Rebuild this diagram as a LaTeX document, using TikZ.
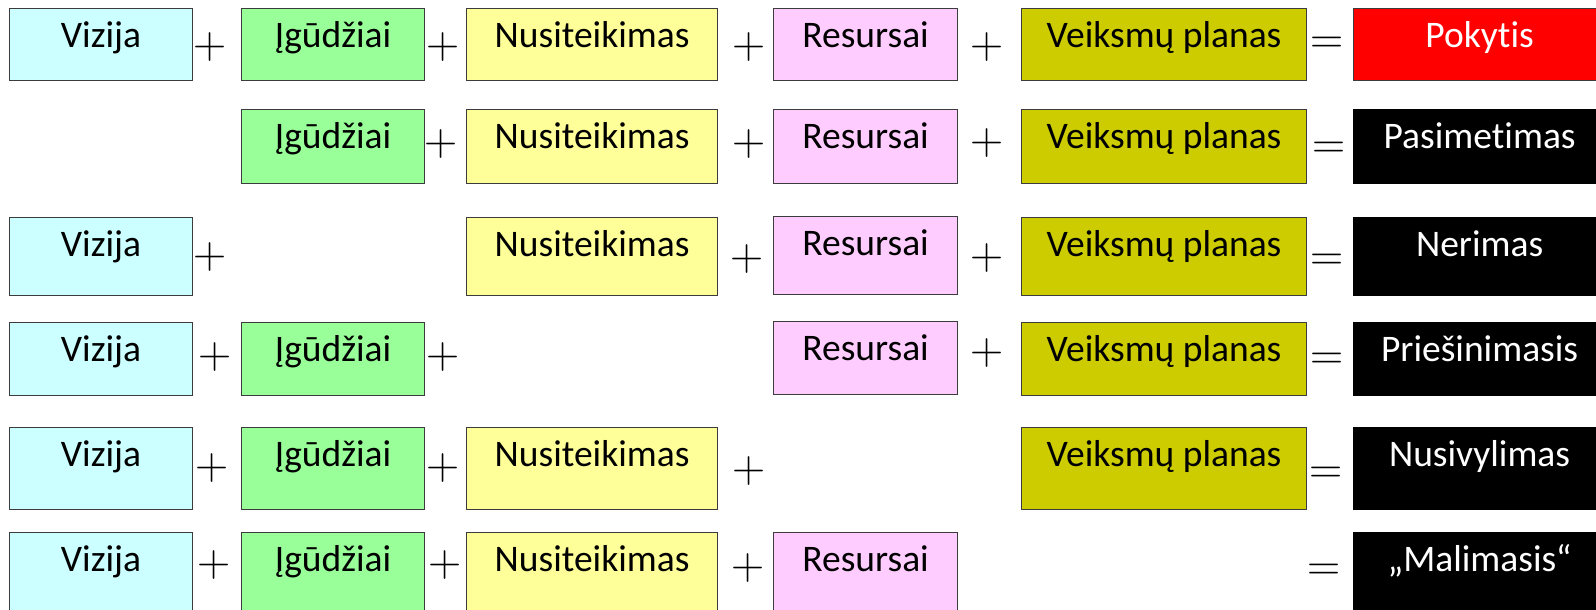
\documentclass[tikz,border=0pt]{standalone}
\usepackage{fontspec}
\setmainfont[Ligatures=NoCommon]{Carlito}
\definecolor{cV}{HTML}{CCFFFF}
\definecolor{cI}{HTML}{99FF99}
\definecolor{cN}{HTML}{FFFF99}
\definecolor{cR}{HTML}{FFCCFF}
\definecolor{cP}{HTML}{CCCC00}
\definecolor{cRed}{HTML}{FF0000}
\definecolor{edge}{HTML}{3C3C3C}
\begin{document}
\begin{tikzpicture}[x=1pt,y=-1pt,
  bx/.style={draw=edge, line width=1.2pt, inner sep=0pt, anchor=north west,
    text height=39pt, font=\fontsize{37.5}{40}\selectfont},
  bV/.style={bx, fill=cV, minimum width=183pt},
  bI/.style={bx, fill=cI, minimum width=183pt},
  bN/.style={bx, fill=cN, minimum width=251pt},
  bR/.style={bx, fill=cR, minimum width=184pt},
  bP/.style={bx, fill=cP, minimum width=285pt},
  bRes/.style={bx, fill=cRed, text=white, minimum width=252pt},
  bBlk/.style={bx, draw=black, fill=black, text=white, minimum width=252pt},
  r1/.style={text depth=33pt},
  r2/.style={text depth=35pt},
  r3/.style={text depth=39pt},
  r4/.style={text depth=34pt},
  r5/.style={text depth=43pt},
  r6/.style={text depth=51pt},
  op/.style={inner sep=0pt, anchor=base, yshift=-11.5pt,
    font=\fontfamily{lmr}\fontsize{46}{46}\selectfont}]
\useasboundingbox (0,0) rectangle (1596,610);
\clip (0,0) rectangle (1596,610);
% Row 1
\node[bV,r1] (v1) at (9,8) {Vizija};
\node[bI,r1] (i1) at (241,8) {Įgūdžiai};
\node[bN,r1] (n1) at (466,8) {Nusiteikimas};
\node[bR,r1] (s1) at (773,8) {Resursai};
\node[bP,r1] (p1) at (1021,8) {Veiksmų planas};
\node[bRes,r1] (o1) at (1353,8) {Pokytis};
\node[op] (a11) at (210,47) {+};
\node[op] (a12) at (443,47) {+};
\node[op] (a13) at (749,47) {+};
\node[op] (a14) at (987,47) {+};
\node[op] (e1) at (1327,42) {=};
% Row 2
\node[bI,r2] (i2) at (241,109) {Įgūdžiai};
\node[bN,r2] (n2) at (466,109) {Nusiteikimas};
\node[bR,r2] (s2) at (773,109) {Resursai};
\node[bP,r2] (p2) at (1021,109) {Veiksmų planas};
\node[bBlk,r2] (o2) at (1353,109) {Pasimetimas};
\node[op] (a22) at (441,144) {+};
\node[op] (a23) at (749,144) {+};
\node[op] (a24) at (987,143) {+};
\node[op] (e2) at (1329,147) {=};
% Row 3
\node[bV,r3] (v3) at (9,217) {Vizija};
\node[bN,r3] (n3) at (466,217) {Nusiteikimas};
\node[bR,r3] (s3) at (773,216) {Resursai};
\node[bP,r3] (p3) at (1021,217) {Veiksmų planas};
\node[bBlk,r3] (o3) at (1353,217) {Nerimas};
\node[op] (a31) at (210,257) {+};
\node[op] (a33) at (747,259) {+};
\node[op] (a34) at (987,258) {+};
\node[op] (e3) at (1327,259) {=};
% Row 4
\node[bV,r4] (v4) at (9,322) {Vizija};
\node[bI,r4] (i4) at (241,322) {Įgūdžiai};
\node[bR,r4] (s4) at (773,321) {Resursai};
\node[bP,r4] (p4) at (1021,322) {Veiksmų planas};
\node[bBlk,r4] (o4) at (1353,322) {Priešinimasis};
\node[op] (a41) at (215,357) {+};
\node[op] (a42) at (443,357) {+};
\node[op] (a44) at (987,353) {+};
\node[op] (e4) at (1327,358) {=};
% Row 5
\node[bV,r5] (v5) at (9,427) {Vizija};
\node[bI,r5] (i5) at (241,427) {Įgūdžiai};
\node[bN,r5] (n5) at (466,427) {Nusiteikimas};
\node[bP,r5] (p5) at (1021,427) {Veiksmų planas};
\node[bBlk,r5] (o5) at (1353,427) {Nusivylimas};
\node[op] (a51) at (212,468) {+};
\node[op] (a52) at (443,468) {+};
\node[op] (a53) at (749,471) {+};
\node[op] (e5) at (1326,472) {=};
% Row 6
\node[bV,r6] (v6) at (9,532) {Vizija};
\node[bI,r6] (i6) at (241,532) {Įgūdžiai};
\node[bN,r6] (n6) at (466,532) {Nusiteikimas};
\node[bR,r6] (s6) at (773,532) {Resursai};
\node[bBlk,r6] (o6) at (1353,532) {„Malimasis“};
\node[op] (a61) at (214,565) {+};
\node[op] (a62) at (445,565) {+};
\node[op] (a63) at (748,568) {+};
\node[op] (e6) at (1324,569) {=};
\end{tikzpicture}
\end{document}
